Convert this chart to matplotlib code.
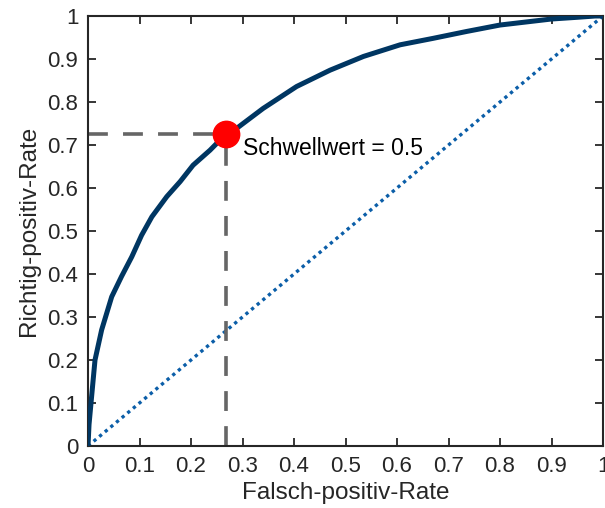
import matplotlib.pyplot as plt
import numpy as np

plt.rcParams['font.family'] = ['Liberation Sans', 'DejaVu Sans']

# ROC curve points
fpr = [0.0, 0.002, 0.007, 0.0136, 0.0265, 0.046, 0.065, 0.085, 0.104, 0.124,
       0.153, 0.179, 0.204, 0.237, 0.268, 0.289, 0.340, 0.405, 0.470, 0.535,
       0.606, 0.670, 0.735, 0.800, 0.900, 0.950, 0.985, 1.0]
tpr = [0.0, 0.05, 0.115, 0.20, 0.27, 0.347, 0.394, 0.44, 0.49, 0.533,
       0.58, 0.615, 0.653, 0.688, 0.7256, 0.739, 0.785, 0.836, 0.874, 0.906,
       0.933, 0.948, 0.964, 0.979, 0.993, 0.997, 1.0, 1.0]

thr_x = 0.268
thr_y = 0.7256
thr_label = 'Schwellwert = 0.5'

ticks = np.round(np.arange(0, 1.01, 0.1), 1)
tick_labels = ['0', '0.1', '0.2', '0.3', '0.4', '0.5', '0.6', '0.7', '0.8', '0.9', '1']

fig = plt.figure(figsize=(6.05, 5.08), dpi=100)
ax = fig.add_axes([88 / 605, 62 / 508, 515 / 605, 430 / 508])

ax.plot([0, 1], [0, 1], color='#0b5ea8', lw=2.4, linestyle=(0, (1, 1.2)), zorder=2)
ax.plot([0, thr_x], [thr_y, thr_y], color='#666666', lw=2.6, linestyle=(0, (5.5, 4.2)), zorder=2)
ax.plot([thr_x, thr_x], [0, thr_y], color='#666666', lw=2.6, linestyle=(0, (5.5, 4.2)), zorder=2)
ax.plot(fpr, tpr, color='#003662', lw=3.6, zorder=3, solid_capstyle='round')
ax.plot([thr_x], [thr_y], 'o', color='#ff0000', markersize=19, zorder=4)
ax.text(0.301, 0.693, thr_label, fontsize=16.5, va='center', ha='left', color='black')

ax.set_xlim(0, 1)
ax.set_ylim(0, 1)
ax.set_xticks(ticks)
ax.set_yticks(ticks)
ax.set_xticklabels(tick_labels)
ax.set_yticklabels(tick_labels)
ax.tick_params(direction='in', length=6, width=1.3, top=True, right=True,
               labelsize=16, colors='#262626', pad=7)
for s in ax.spines.values():
    s.set_linewidth(1.5)
    s.set_color('#262626')

ax.set_xlabel('Falsch-positiv-Rate', fontsize=17.5, color='#262626', labelpad=4)
ax.set_ylabel('Richtig-positiv-Rate', fontsize=17.5, color='#262626', labelpad=5)

fig.savefig('out.png', dpi=100)
